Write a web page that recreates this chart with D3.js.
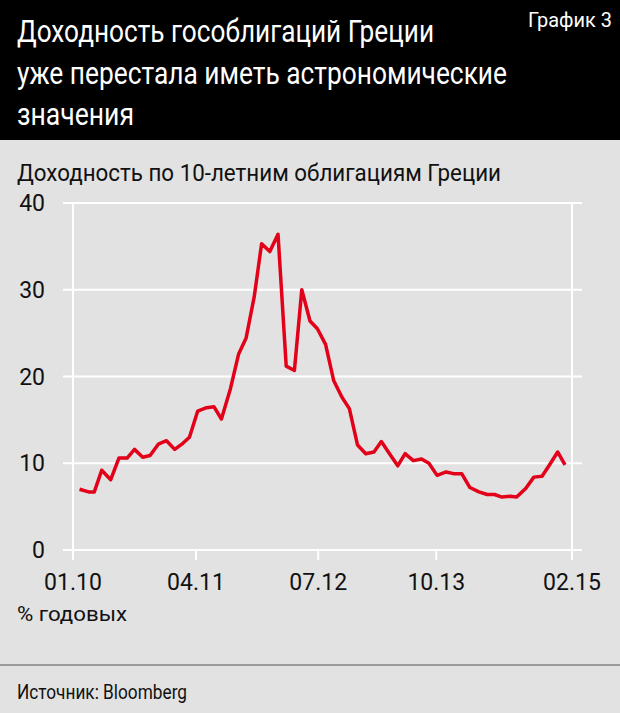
<!DOCTYPE html>
<html>
<head>
  <meta charset="utf-8">
  <style>
    body { margin: 0; background: #e2e2e2; }
    text { font-family: "Roboto", "DejaVu Sans", sans-serif; }
  </style>
</head>
<body>
  <div id="graph"></div>
  <script src="https://cdn.jsdelivr.net/npm/d3@7"></script>
  <script>
    // months since Jan 2010
    const months = [0.8, 1.9, 2.6, 3.5, 4.6, 5.6, 6.6, 7.5, 8.5, 9.4, 10.4, 11.4, 12.4, 13.4, 14.2,
      15.2, 16.3, 17.2, 18.1, 19.2, 20.2, 21.1, 22.1, 23.0, 24.0, 25.0, 26.0, 27.0, 27.9, 28.9,
      29.8, 30.8, 31.8, 32.8, 33.7, 34.7, 35.7, 36.7, 37.6, 38.6, 39.6, 40.5, 41.5, 42.5, 43.4,
      44.4, 45.5, 46.4, 47.4, 48.4, 49.5, 50.5, 51.4, 52.3, 53.3, 54.1, 55.2, 56.2, 57.2, 58.1,
      59.1, 60.0];
    // yield, %
    const yields = [7.0, 6.7, 6.7, 9.2, 8.1, 10.6, 10.6, 11.6, 10.7, 10.9, 12.2, 12.6, 11.6, 12.3, 13.0,
      16.0, 16.4, 16.5, 15.1, 18.6, 22.6, 24.4, 29.2, 35.3, 34.4, 36.4, 21.2, 20.7, 30.0, 26.4,
      25.5, 23.7, 19.5, 17.6, 16.3, 12.1, 11.1, 11.3, 12.5, 11.1, 9.7, 11.1, 10.3, 10.5, 10.0,
      8.6, 9.0, 8.8, 8.8, 7.2, 6.7, 6.4, 6.4, 6.1, 6.2, 6.1, 7.1, 8.4, 8.5, 9.8,
      11.3, 9.8];
    const xTickPos = [0, 15, 29.9, 44.3, 60.85];
    const xTickLabels = ["01.10", "04.11", "07.12", "10.13", "02.15"];
    const yTicks = [0, 10, 20, 30, 40];

    const W = 620, H = 713;
    const svg = d3.select("#graph").append("svg")
      .attr("width", W).attr("height", H);

    svg.append("rect").attr("width", W).attr("height", H).attr("fill", "#e2e2e2");
    svg.append("rect").attr("width", W).attr("height", 140).attr("fill", "#000");

    // squeeze text to look like the condensed face of the original
    function label(x, y, size, str, len, color) {
      const t = svg.append("text").attr("x", x).attr("y", y)
        .attr("font-size", size).attr("fill", color || "#111").text(str);
      if (len) t.attr("textLength", len).attr("lengthAdjust", "spacingAndGlyphs");
      return t;
    }

    label(17, 42, 32, "Доходность гособлигаций Греции", 417, "#fff");
    label(17, 84, 32, "уже перестала иметь астрономические", 490, "#fff");
    label(17, 125, 32, "значения", 117, "#fff");
    label(528, 27, 20, "График 3", 84, "#fff");

    label(17, 181, 23, "Доходность по 10-летним облигациям Греции", 484);

    const x = d3.scaleLinear().domain([0, 60.85]).range([73, 572]);
    const y = d3.scaleLinear().domain([0, 40]).range([550, 203]);

    // grid
    svg.append("g").selectAll("line").data(yTicks).enter().append("line")
      .attr("x1", 63).attr("x2", 582).attr("y1", d => y(d)).attr("y2", d => y(d))
      .attr("stroke", "#fff").attr("stroke-width", 2);
    svg.append("g").selectAll("line").data(xTickPos).enter().append("line")
      .attr("x1", d => x(d)).attr("x2", d => x(d))
      .attr("y1", (d, i) => (i === 0 || i === 4) ? 203 : 550).attr("y2", 560)
      .attr("stroke", "#fff").attr("stroke-width", 2);

    svg.append("g").selectAll("text").data(yTicks).enter().append("text")
      .attr("x", 45).attr("y", d => y(d) + 8).attr("text-anchor", "end")
      .attr("font-size", 23).attr("fill", "#111").text(d => d);
    svg.append("g").selectAll("text").data(xTickPos).enter().append("text")
      .attr("x", d => x(d)).attr("y", 590).attr("text-anchor", "middle")
      .attr("font-size", 23).attr("fill", "#111").text((d, i) => xTickLabels[i]);
    label(17, 621, 21, "% годовых", 110);

    const data = months.map((m, i) => ({ m, v: yields[i] }));
    svg.append("path").datum(data)
      .attr("fill", "none").attr("stroke", "#e30019").attr("stroke-width", 3.5)
      .attr("stroke-linejoin", "round")
      .attr("d", d3.line().x(d => x(d.m)).y(d => y(d.v)));

    svg.append("line").attr("x1", 0).attr("x2", W).attr("y1", 665).attr("y2", 665)
      .attr("stroke", "#555").attr("stroke-width", 1);
    label(17, 699, 20, "Источник: Bloomberg", 170);
  </script>
</body>
</html>
